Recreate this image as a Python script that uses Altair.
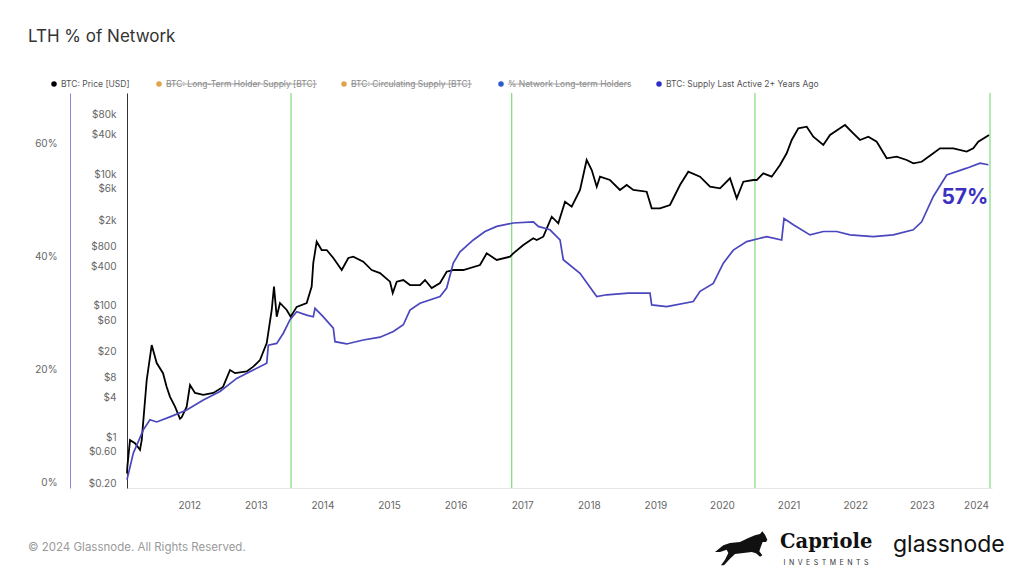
import altair as alt
import pandas as pd

# ---------------- data ----------------
price_year = [2011.066, 2011.071, 2011.111, 2011.186, 2011.261, 2011.287, 2011.362, 2011.437, 2011.512,
              2011.607, 2011.662, 2011.712, 2011.787, 2011.862, 2011.887, 2011.962, 2012.012, 2012.087,
              2012.212, 2012.362, 2012.508, 2012.613, 2012.688, 2012.863, 2012.962, 2013.063, 2013.164,
              2013.239, 2013.273, 2013.314, 2013.363, 2013.464, 2013.524, 2013.614, 2013.764, 2013.839,
              2013.863, 2013.914, 2013.989, 2014.065, 2014.164, 2014.290, 2014.389, 2014.464, 2014.614,
              2014.740, 2014.865, 2015.015, 2015.056, 2015.116, 2015.215, 2015.315, 2015.465, 2015.541,
              2015.641, 2015.766, 2015.866, 2015.965, 2016.116, 2016.366, 2016.467, 2016.617, 2016.817,
              2016.866, 2017.017, 2017.166, 2017.218, 2017.317, 2017.443, 2017.542, 2017.643, 2017.743,
              2017.868, 2017.968, 2018.044, 2018.119, 2018.168, 2018.318, 2018.468, 2018.569, 2018.668,
              2018.869, 2018.944, 2019.069, 2019.219, 2019.369, 2019.494, 2019.670, 2019.820, 2019.970,
              2020.120, 2020.221, 2020.320, 2020.470, 2020.521, 2020.620, 2020.746, 2020.871, 2020.971,
              2021.047, 2021.146, 2021.272, 2021.371, 2021.521, 2021.622, 2021.772, 2021.847, 2021.971,
              2022.072, 2022.197, 2022.323, 2022.473, 2022.623, 2022.773, 2022.872, 2022.998, 2023.173,
              2023.273, 2023.473, 2023.674, 2023.773, 2023.848, 2024.010]
price_usd = [0.28, 0.35, 0.90, 0.81, 0.64, 0.90, 7.4, 25.2, 13.4,
             9.4, 5.8, 4.1, 2.9, 1.9, 2.0, 2.9, 6.2, 4.7,
             4.4, 4.7, 5.8, 10.5, 9.4, 10.0, 11.8, 14.9, 27.0,
             86, 195, 68, 110, 86, 68, 96, 110, 195,
             447, 942, 703, 703, 532, 349, 532, 556, 467,
             349, 314, 232, 156, 232, 246, 206, 206, 246,
             186, 221, 329, 349, 349, 416, 627, 496, 556,
             627, 838, 1061, 1000, 1122, 2260, 1794, 3826, 3209,
             5765, 16490, 11610, 6470, 9190, 8180, 5765, 6870, 5765,
             5430, 3035, 3035, 3405, 6870, 10940, 9190, 6470, 6120,
             8690, 4310, 7710, 8180, 8180, 10350, 9190, 13840, 20850,
             33270, 50100, 53000, 37300, 27900, 39600, 50100, 56200, 42000,
             33270, 37300, 31300, 17500, 18500, 16490, 14700, 15500, 20850,
             24800, 24800, 22100, 24800, 31300, 39600]

lth_year = [2011.066, 2011.161, 2011.311, 2011.411, 2011.512, 2011.712, 2011.962, 2012.212, 2012.462,
            2012.713, 2012.962, 2013.164, 2013.188, 2013.314, 2013.413, 2013.514, 2013.614, 2013.764,
            2013.863, 2013.889, 2014.014, 2014.164, 2014.189, 2014.365, 2014.614, 2014.865, 2015.065,
            2015.215, 2015.315, 2015.465, 2015.766, 2015.866, 2015.965, 2016.066, 2016.266, 2016.441,
            2016.617, 2016.866, 2017.167, 2017.242, 2017.417, 2017.568, 2017.617, 2017.868, 2018.119,
            2018.269, 2018.593, 2018.919, 2018.944, 2019.170, 2019.569, 2019.670, 2019.869, 2020.020,
            2020.170, 2020.371, 2020.571, 2020.671, 2020.896, 2020.931, 2021.071, 2021.321, 2021.521,
            2021.722, 2021.922, 2022.272, 2022.572, 2022.872, 2022.998, 2023.173, 2023.374, 2023.674,
            2023.874, 2024.000]
lth_pct = [0.6, 5.3, 9.4, 11.2, 10.8, 11.7, 12.9, 14.7, 16.2,
           18.5, 20.0, 21.2, 24.4, 24.7, 26.5, 28.9, 30.3, 29.7,
           29.4, 30.9, 29.4, 27.4, 25.0, 24.6, 25.3, 25.8, 26.8,
           28.0, 30.6, 31.8, 33.0, 34.5, 38.9, 40.9, 43.0, 44.5,
           45.4, 46.0, 46.2, 45.4, 44.8, 43.0, 39.5, 37.1, 33.0,
           33.3, 33.6, 33.6, 31.5, 31.2, 32.1, 33.9, 35.3, 38.9,
           41.2, 42.7, 43.3, 43.6, 43.0, 46.8, 45.7, 43.9, 44.5,
           44.5, 43.9, 43.6, 43.9, 44.8, 46.2, 50.7, 54.5, 55.7,
           56.6, 56.3]

marker_year = [2013.529, 2016.842, 2020.495, 2024.024]
lth_label = "57%"

year_ticks = list(range(2012, 2025))
price_ticks = [0.2, 0.6, 1, 4, 8, 20, 60, 100, 400, 800, 2000, 6000, 10000, 40000, 80000]
pct_ticks = [0, 20, 40, 60]

legend_labels = ["BTC: Price [USD]", "BTC: Long-Term Holder Supply [BTC]", "BTC: Circulating Supply [BTC]",
                 "% Network Long-term Holders", "BTC: Supply Last Active 2+ Years Ago"]
legend_colors = ["#000000", "#e0a24a", "#e0a24a", "#2f5bd0", "#2e2ec4"]
legend_hidden = [False, True, True, True, False]

title_text = "LTH % of Network"
footer_text = "\u00a9 2024 Glassnode. All Rights Reserved."
invest_text = "\u2002".join("INVESTMENTS")

# ---------------- layout (pixels, relative to plot area) ----------------
W, H = 865, 395
legend_dot_x = [-73, 32, 217, 374, 532]
legend_text_end = [1, 190, 345, 502, 693]
LEG_Y = -9

FONT = "Inter"

price_df = pd.DataFrame({"year": price_year, "price": price_usd})
lth_df = pd.DataFrame({"year": lth_year, "pct": lth_pct})
mark_df = pd.DataFrame({"year": marker_year})
label_df = pd.DataFrame({"year": [lth_year[-1]], "pct": [lth_pct[-1]], "t": [lth_label]})
leg_df = pd.DataFrame({
    "label": legend_labels, "color": legend_colors, "hidden": legend_hidden,
    "dx": legend_dot_x, "tx": [d + 7 for d in legend_dot_x], "ex": legend_text_end,
})

x_scale = alt.Scale(domain=[2011.066, 2024.054], nice=False, zero=False)
x_axis = alt.Axis(values=year_ticks, format="d", grid=False, ticks=False, tickSize=0,
                  domainColor="#e6e6e6", labelColor="#666666", labelFont=FONT, labelFontSize=10,
                  labelPadding=12, title=None, labelFlush=5)
X = alt.X("year:Q", scale=x_scale, axis=x_axis)

price_label_expr = ("datum.value >= 1000 ? '$' + (datum.value / 1000) + 'k' : "
                    "(datum.value < 1 ? '$' + format(datum.value, '.2f') : '$' + datum.value)")

rules = alt.Chart(mark_df).mark_rule(color="#7fdc7f", strokeWidth=1.2).encode(x=X)

price_line = alt.Chart(price_df).mark_line(color="#000000", strokeWidth=1.8).encode(
    x=X,
    y=alt.Y("price:Q",
            scale=alt.Scale(type="log", domain=[0.168, 172600], nice=False),
            axis=alt.Axis(orient="left", values=price_ticks, labelExpr=price_label_expr,
                          grid=False, ticks=False, tickSize=0, domainColor="#333333",
                          labelColor="#666666", labelFont=FONT, labelFontSize=10,
                          labelPadding=11, labelOverlap=False, title=None, labelFlush=False)),
)

pct_scale = alt.Scale(domain=[-0.885, 69.0], nice=False, zero=False)
lth_line = alt.Chart(lth_df).mark_line(color="#4a46bd", strokeWidth=1.7).encode(
    x=X,
    y=alt.Y("pct:Q", scale=pct_scale,
            axis=alt.Axis(orient="left", offset=57, values=pct_ticks, labelExpr="datum.value + '%'",
                          grid=False, ticks=False, tickSize=0, domainColor="#8c88cf",
                          labelColor="#666666", labelFont=FONT, labelFontSize=10,
                          labelPadding=13, title=None, labelFlush=False)),
)

lth_text = alt.Chart(label_df).mark_text(
    align="right", baseline="middle", dx=0, dy=33, fontSize=21, fontWeight="bold",
    font=FONT, color="#3b30c0").encode(
    x=X, y=alt.Y("pct:Q", scale=pct_scale, axis=None), text="t:N")

leg_dots = alt.Chart(leg_df).mark_circle(size=30, opacity=1).encode(
    x=alt.X("dx:Q", scale=None), y=alt.value(LEG_Y), color=alt.Color("color:N", scale=None))
leg_text = alt.Chart(leg_df).mark_text(align="left", baseline="middle", fontSize=8.5, font=FONT).encode(
    x=alt.X("tx:Q", scale=None), y=alt.value(LEG_Y), text="label:N",
    color=alt.condition("datum.hidden", alt.value("#8a8a8a"), alt.value("#555555")))
leg_strike = alt.Chart(leg_df).transform_filter("datum.hidden").mark_rule(
    color="#8a8a8a", strokeWidth=0.8).encode(
    x=alt.X("tx:Q", scale=None), x2="ex:Q", y=alt.value(LEG_Y))

title = alt.Chart(pd.DataFrame({"t": [title_text]})).mark_text(
    align="left", baseline="middle", fontSize=17, font=FONT, color="#333333").encode(
    x=alt.value(-99), y=alt.value(-56), text="t:N")
footer = alt.Chart(pd.DataFrame({"t": [footer_text]})).mark_text(
    align="left", baseline="middle", fontSize=11.5, font=FONT, color="#9a9a9a").encode(
    x=alt.value(-99), y=alt.value(455), text="t:N")

capriole = alt.Chart(pd.DataFrame({"t": ["Capriole"]})).mark_text(
    align="left", baseline="middle", fontSize=19.5, font="DejaVu Serif", fontWeight="bold",
    color="#111111").encode(x=alt.value(653), y=alt.value(449), text="t:N")
invest = alt.Chart(pd.DataFrame({"t": [invest_text]})).mark_text(
    align="center", baseline="middle", fontSize=7, font=FONT, color="#333333").encode(
    x=alt.value(699), y=alt.value(470), text="t:N")
glassnode = alt.Chart(pd.DataFrame({"t": ["glassnode"]})).mark_text(
    align="left", baseline="middle", fontSize=23, font=FONT, color="#111111").encode(
    x=alt.value(766), y=alt.value(452), text="t:N")

horse_path = ("M1.013,-0.34 L0.923,-0.532 L0.821,-0.66 L0.731,-0.558 L0.538,-0.506 L0.282,-0.404 "
              "L-0.038,-0.25 L-0.423,-0.212 L-0.679,-0.122 L-1,0.135 L-0.808,0.135 L-0.551,0.045 "
              "L-0.487,0.173 L-0.615,0.429 L-0.769,0.647 L-0.654,0.647 L-0.423,0.391 L-0.231,0.212 "
              "L0.09,0.173 L0.41,0.135 L0.577,0.186 L0.731,0.314 L0.821,0.263 L0.705,0.109 "
              "L0.756,-0.045 L0.833,-0.25 L0.962,-0.25 Z")
horse = alt.Chart(pd.DataFrame({"k": [1]})).mark_point(
    shape=horse_path, size=2704, filled=True, color="#111111", opacity=1).encode(
    x=alt.value(614), y=alt.value(455.5))

chart = alt.layer(
    rules, price_line, lth_line, lth_text,
    leg_dots, leg_text, leg_strike, title, footer, capriole, invest, glassnode, horse,
).resolve_scale(y="independent").properties(
    width=W, height=H,
    padding={"left": 119, "top": 85, "right": 24, "bottom": 80},
    autosize=alt.AutoSizeParams(type="none"),
    background="white",
).configure_view(stroke=None)

chart.save("out.html", embed_options={"renderer": "svg", "actions": False})
